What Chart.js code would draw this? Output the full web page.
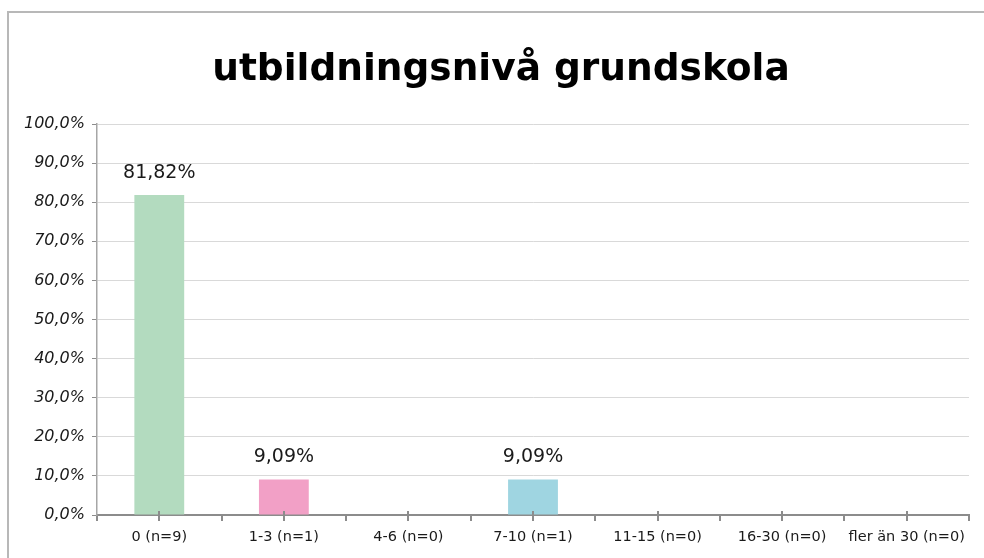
<!DOCTYPE html>
<html>
<head>
<meta charset="utf-8">
<script src="https://cdn.jsdelivr.net/npm/chart.js@4"></script>
<style>
  html, body { margin: 0; padding: 0; background: #fff; }
  #wrap { position: relative; width: 984px; height: 558px; overflow: hidden; }
  #frame { position: absolute; left: 7px; top: 11px; width: 1100px; height: 700px; border: 2px solid #b8b8b8; box-sizing: border-box; }
  #c { position: absolute; left: 0; top: 0; }
</style>
</head>
<body>
<div id="wrap">
  <div id="frame"></div>
  <canvas id="c" width="984" height="558"></canvas>
</div>
<script>
const titleText = 'utbildningsnivå grundskola';
const categories = ['0 (n=9)', '1-3 (n=1)', '4-6 (n=0)', '7-10 (n=1)', '11-15 (n=0)', '16-30 (n=0)', 'fler än 30 (n=0)'];
const values = [81.82, 9.09, 0, 9.09, 0, 0, 0];
const valueLabels = ['81,82%', '9,09%', '', '9,09%', '', '', ''];
const barColors = ['#b3dbbf', '#f2a0c6', '#b3dbbf', '#9fd5e1', '#b3dbbf', '#b3dbbf', '#b3dbbf'];

const FONT = '"DejaVu Sans", sans-serif';

const extras = {
  id: 'extras',
  afterDatasetsDraw(chart) {
    const ctx = chart.ctx;
    const meta = chart.getDatasetMeta(0);
    ctx.save();
    // title
    ctx.fillStyle = '#000';
    ctx.font = 'bold 37.5px ' + FONT;
    ctx.textAlign = 'center';
    ctx.textBaseline = 'alphabetic';
    ctx.fillText(titleText, 501, 80);
    // value labels
    ctx.fillStyle = '#1a1a1a';
    ctx.font = '19px ' + FONT;
    ctx.textBaseline = 'bottom';
    meta.data.forEach((el, i) => {
      if (!valueLabels[i]) return;
      ctx.fillText(valueLabels[i], el.x, el.y - 13);
    });
    // center tick marks on x axis
    const xs = chart.scales.x;
    const yb = chart.chartArea.bottom;
    ctx.strokeStyle = '#8c8c8c';
    ctx.lineWidth = 2;
    categories.forEach((c, i) => {
      const x = Math.round(xs.getPixelForValue(i));
      ctx.beginPath();
      ctx.moveTo(x, yb - 4);
      ctx.lineTo(x, yb + 6);
      ctx.stroke();
    });
    ctx.restore();
  }
};

new Chart(document.getElementById('c'), {
  type: 'bar',
  data: {
    labels: categories,
    datasets: [{
      data: values,
      backgroundColor: barColors,
      borderWidth: 0,
      barPercentage: 0.4,
      categoryPercentage: 1.0
    }]
  },
  options: {
    responsive: false,
    animation: false,
    layout: { padding: { left: 0, right: 15, top: 124, bottom: 0 } },
    plugins: {
      legend: { display: false },
      tooltip: { enabled: false },
      title: { display: false }
    },
    scales: {
      x: {
        offset: true,
        grid: { display: true, drawOnChartArea: false, offset: true, tickLength: 6, color: '#8c8c8c', lineWidth: 2 },
        border: { display: true, color: '#8c8c8c', width: 2 },
        ticks: { color: '#1a1a1a', font: { family: FONT, size: 14.5 }, padding: 8, maxRotation: 0, autoSkip: false },
        afterFit(s) { s.height = 43; }
      },
      y: {
        min: 0, max: 100,
        ticks: {
          stepSize: 10,
          color: '#1a1a1a',
          font: { family: FONT, size: 16, style: 'italic' },
          padding: 7,
          callback: v => v.toFixed(1).replace('.', ',') + '%'
        },
        grid: { color: '#d9d9d9', lineWidth: 1, tickLength: 5, tickColor: '#8c8c8c' },
        border: { display: true, color: '#a6a6a6', width: 1.5 },
        afterFit(s) { s.width = 97; }
      }
    }
  },
  plugins: [extras]
});
</script>
</body>
</html>
